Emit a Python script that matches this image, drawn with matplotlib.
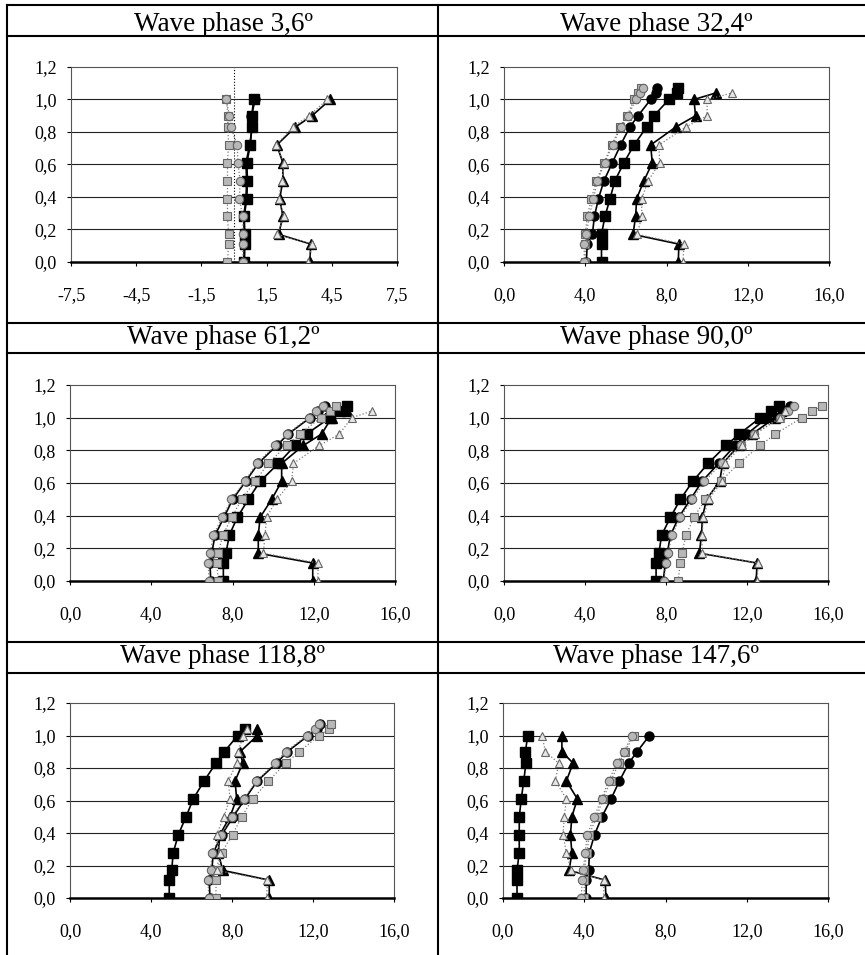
import numpy as np
import matplotlib
matplotlib.use("Agg")
import matplotlib.pyplot as plt

plt.rcParams['font.family'] = ['Liberation Serif', 'DejaVu Serif']

# relative depth levels (y axis), shared by every panel
Z = [0.0, 0.11, 0.17, 0.28, 0.39, 0.5, 0.61, 0.72, 0.83, 0.9, 1.0, 1.04, 1.07]

PHASES = ["3,6", "32,4", "61,2", "90,0", "118,8", "147,6"]

# --- wave phase 3,6
sq_k_1 = [0.48, 0.50, 0.50, 0.47, 0.59, 0.62, 0.59, 0.75, 0.82, 0.82, 0.90]
ci_k_1 = [0.45, 0.47, 0.47, 0.45, 0.55, 0.58, 0.55, 0.72, 0.84, 0.80, 0.98]
sq_g_1 = [-0.30, -0.25, -0.25, -0.30, -0.30, -0.30, -0.30, -0.25, -0.28, -0.28, -0.35]
ci_g_1 = [0.42, 0.40, 0.42, 0.40, 0.25, 0.28, 0.18, 0.15, -0.15, -0.22, -0.35]
tr_k_1 = [3.48, 3.54, 2.05, 2.25, 2.10, 2.25, 2.25, 1.97, 2.82, 3.59, 4.43]
tr_g_1 = [3.40, 3.60, 2.00, 2.30, 2.05, 2.20, 2.30, 1.95, 2.70, 3.45, 4.30]

# --- wave phase 32,4
sq_k_2 = [4.8, 4.8, 4.8, 4.97, 5.22, 5.46, 5.9, 6.4, 7.02, 7.38, 8.12, 8.5, 8.57]
ci_k_2 = [4.05, 4.1, 4.35, 4.45, 4.65, 4.92, 5.33, 5.74, 6.19, 6.6, 7.22, 7.47, 7.55]
sq_g_2 = [4.0, 4.0, 4.0, 4.1, 4.3, 4.55, 4.92, 5.3, 5.71, 6.07, 6.4, 6.6, 6.75]
ci_g_2 = [3.95, 3.95, 4.05, 4.2, 4.4, 4.6, 4.95, 5.35, 5.75, 6.1, 6.5, 6.7, 6.85]
tr_k_2 = [8.58, 8.61, 6.35, 6.48, 6.53, 6.89, 7.3, 7.22, 8.45, 9.43, 9.35, 10.42]
tr_g_2 = [8.81, 8.86, 6.56, 6.78, 6.78, 7.1, 7.66, 7.63, 8.94, 10.0, 10.0, 11.24]

# --- wave phase 61,2
sq_k_3 = [7.55, 7.55, 7.68, 7.84, 8.24, 8.78, 9.36, 10.26, 11.08, 11.65, 12.8, 13.3, 13.62]
ci_k_3 = [6.93, 6.89, 6.98, 7.14, 7.58, 8.01, 8.65, 9.27, 10.18, 10.75, 11.82, 12.2, 12.56]
sq_g_3 = [7.3, 7.22, 7.3, 7.52, 7.96, 8.45, 9.11, 9.76, 10.67, 11.32, 12.34, 12.8, 13.1]
ci_g_3 = [6.85, 6.8, 6.9, 7.05, 7.5, 7.95, 8.6, 9.2, 10.1, 10.7, 11.75, 12.1, 12.45]
tr_k_3 = [11.95, 11.95, 9.27, 9.27, 9.36, 9.93, 10.42, 10.42, 11.49, 12.39, 12.88, 13.62]
tr_g_3 = [12.19, 12.23, 9.52, 9.6, 9.68, 10.18, 10.91, 11.0, 12.28, 13.26, 13.87, 14.85]

# --- wave phase 90,0
sq_k_4 = [7.51, 7.51, 7.65, 7.78, 8.22, 8.71, 9.32, 10.08, 10.97, 11.62, 12.66, 13.2, 13.6]
ci_k_4 = [7.86, 7.97, 8.06, 8.22, 8.63, 9.21, 9.78, 10.6, 11.42, 12.0, 13.0, 13.9, 14.1]
sq_g_4 = [8.6, 8.7, 8.78, 8.99, 9.37, 9.95, 10.7, 11.59, 12.66, 13.4, 14.72, 15.2, 15.7]
ci_g_4 = [7.9, 8.0, 8.1, 8.3, 8.7, 9.3, 9.9, 10.75, 11.7, 12.33, 13.65, 14.0, 14.3]
tr_k_4 = [12.45, 12.5, 9.65, 9.75, 9.8, 10.0, 10.65, 10.8, 11.6, 12.25, 13.4, 13.7]
tr_g_4 = [12.5, 12.55, 9.78, 9.78, 9.85, 10.11, 10.77, 10.93, 11.75, 12.4, 13.65, 13.9]

# --- wave phase 118,8
sq_k_5 = [4.9, 4.9, 5.02, 5.1, 5.35, 5.73, 6.09, 6.62, 7.21, 7.62, 8.28, 8.64]
ci_k_5 = [6.91, 6.88, 7.0, 7.08, 7.5, 8.06, 8.64, 9.25, 10.2, 10.73, 11.77, 12.2, 12.35]
sq_g_5 = [7.2, 7.22, 7.3, 7.49, 8.03, 8.48, 9.02, 9.8, 10.66, 11.32, 12.3, 12.8, 12.9]
ci_g_5 = [6.85, 6.82, 6.95, 7.02, 7.45, 8.0, 8.58, 9.2, 10.12, 10.65, 11.7, 12.1, 12.3]
tr_k_5 = [9.84, 9.84, 7.54, 7.32, 7.4, 7.9, 8.23, 8.15, 8.53, 8.4, 9.25, 9.25]
tr_g_5 = [9.71, 9.75, 7.24, 7.4, 7.24, 7.6, 7.9, 7.82, 8.23, 8.3, 8.55, 8.72]

# --- wave phase 147,6
sq_k_6 = [0.69, 0.69, 0.69, 0.8, 0.8, 0.8, 0.9, 1.02, 1.13, 1.1, 1.22]
ci_k_6 = [4.09, 4.1, 4.22, 4.25, 4.51, 4.87, 5.32, 5.73, 6.19, 6.6, 7.21]
sq_g_6 = [4.0, 4.0, 4.0, 4.13, 4.25, 4.61, 4.92, 5.3, 5.71, 6.0, 6.44]
ci_g_6 = [3.85, 3.9, 3.95, 4.05, 4.15, 4.5, 4.85, 5.2, 5.6, 5.95, 6.35]
tr_k_6 = [5.07, 5.03, 3.26, 3.39, 3.32, 3.39, 3.66, 3.12, 3.45, 2.9, 2.9]
tr_g_6 = [4.96, 4.96, 3.35, 3.12, 2.95, 3.02, 3.12, 2.58, 2.74, 2.09, 1.92]

panels = [
    (sq_k_1, ci_k_1, tr_k_1, sq_g_1, ci_g_1, tr_g_1),
    (sq_k_2, ci_k_2, tr_k_2, sq_g_2, ci_g_2, tr_g_2),
    (sq_k_3, ci_k_3, tr_k_3, sq_g_3, ci_g_3, tr_g_3),
    (sq_k_4, ci_k_4, tr_k_4, sq_g_4, ci_g_4, tr_g_4),
    (sq_k_5, ci_k_5, tr_k_5, sq_g_5, ci_g_5, tr_g_5),
    (sq_k_6, ci_k_6, tr_k_6, sq_g_6, ci_g_6, tr_g_6),
]

W, H = 865, 955
fig = plt.figure(figsize=(W / 100, H / 100), dpi=100)

# table frame drawn in pixel coordinates
bg = fig.add_axes([0, 0, 1, 1])
bg.set_xlim(0, W)
bg.set_ylim(H, 0)
bg.axis('off')
for yy in [5, 36, 323, 353, 642, 673]:
    bg.plot([7, W], [yy, yy], color='black', lw=1.5)
for xx in [7, 438]:
    bg.plot([xx, xx], [5, H], color='black', lw=1.5)

title_base = [31, 344, 663]
title_x = [223, 656]

# plot areas in pixels: (left, right, top, bottom)
boxes = [(71, 397, 67, 262), (504, 829, 67, 262),
         (70, 395, 385, 581), (504, 828, 385, 581),
         (70, 394, 703, 898), (503, 828, 703, 898)]

black = dict(color='black', lw=1.2, mfc='black', mec='black')
gray = dict(color='#7a7a7a', lw=0.9, ls=':', mfc='#b8b8b8', mec='#666666', mew=0.8)


def fmt(v, dec=1):
    return f"{v:.{dec}f}".replace('.', ',')


for i, (data, phase) in enumerate(zip(panels, PHASES)):
    l, r, t, b = boxes[i]
    ax = fig.add_axes([l / W, 1 - b / H, (r - l) / W, (b - t) / H])
    sq_k, ci_k, tr_k, sq_g, ci_g, tr_g = data

    ax.plot(sq_k, Z[:len(sq_k)], marker='s', ms=6.5, **black, zorder=3)
    ax.plot(ci_k, Z[:len(ci_k)], marker='o', ms=6.5, **black, zorder=3)
    ax.plot(tr_k, Z[:len(tr_k)], marker='^', ms=7, **black, zorder=3)
    ax.plot(sq_g, Z[:len(sq_g)], marker='s', ms=6, **gray, zorder=4)
    ax.plot(ci_g, Z[:len(ci_g)], marker='o', ms=6, **gray, zorder=4)
    g_tri = dict(gray)
    g_tri['mfc'] = '#e6e6e6'
    ax.plot(tr_g, Z[:len(tr_g)], marker='^', ms=6, **g_tri, zorder=4)

    if i == 0:
        ax.set_xlim(-7.5, 7.5)
        xt = np.arange(-7.5, 7.6, 3.0)
        ax.axvline(0, color='black', lw=0.8, ls=':', zorder=1)
    else:
        ax.set_xlim(0, 16)
        xt = np.arange(0, 16.1, 4.0)
    ax.set_ylim(0, 1.2)
    ax.set_xticks(xt)
    ax.set_xticklabels([fmt(v) for v in xt])
    yt = np.arange(0, 1.21, 0.2)
    ax.set_yticks(yt)
    ax.set_yticklabels([fmt(v) for v in yt])

    for v in yt[1:-1]:
        ax.axhline(v, color='#222222', lw=0.8, zorder=1)

    for s in ['top', 'right', 'left']:
        ax.spines[s].set_color('#555555')
        ax.spines[s].set_linewidth(0.8)
    ax.spines['bottom'].set_linewidth(1.8)
    ax.tick_params(axis='x', direction='out', length=3, width=0.8, pad=15,
                   labelsize=13)
    ax.tick_params(axis='y', direction='out', length=3, width=0.8, pad=7,
                   labelsize=13)

    row, col = divmod(i, 2)
    bg.text(title_x[col], title_base[row], f"Wave phase {phase}º",
            ha='center', va='baseline', fontsize=19.5)

fig.savefig('out.png', dpi=100)
